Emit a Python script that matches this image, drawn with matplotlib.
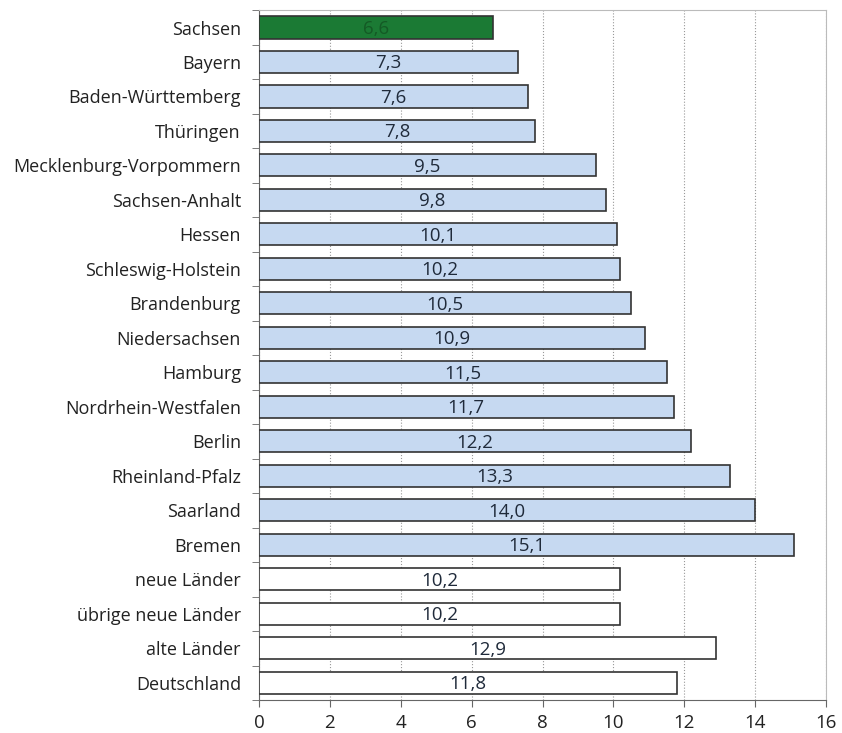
import matplotlib.pyplot as plt
import numpy as np

plt.rcParams['font.family'] = ['Open Sans', 'DejaVu Sans']

laender = ['Sachsen', 'Bayern', 'Baden-Württemberg', 'Thüringen', 'Mecklenburg-Vorpommern',
           'Sachsen-Anhalt', 'Hessen', 'Schleswig-Holstein', 'Brandenburg', 'Niedersachsen',
           'Hamburg', 'Nordrhein-Westfalen', 'Berlin', 'Rheinland-Pfalz', 'Saarland', 'Bremen',
           'neue Länder', 'übrige neue Länder', 'alte Länder', 'Deutschland']
werte = [6.6, 7.3, 7.6, 7.8, 9.5, 9.8, 10.1, 10.2, 10.5, 10.9, 11.5, 11.7, 12.2, 13.3, 14.0, 15.1,
         10.2, 10.2, 12.9, 11.8]
farben = ['#1B7A34'] + ['#C6D9F1'] * 15 + ['white'] * 4

fig = plt.figure(figsize=(8.42, 7.33), dpi=100)
ax = fig.add_axes([0.3076, 0.045, 0.6734, 0.941])

y = np.arange(len(laender))
ax.barh(y, werte, height=0.64, color=farben, edgecolor='#333333', linewidth=1.2, zorder=3)

for i, v in enumerate(werte):
    col = '#145a25' if i == 0 else '#1f2a3a'
    ax.text(v / 2, i + 0.04, f'{v:.1f}'.replace('.', ','), ha='center', va='center',
            fontsize=13.5, color=col, zorder=4)

ax.set_ylim(len(laender) - 0.5, -0.5)
ax.set_xlim(0, 16)
ax.set_xticks(range(0, 17, 2))
ax.set_yticks(y)
ax.set_yticklabels(laender, fontsize=13, color='#222222')
ax.set_yticks(np.arange(-0.5, len(laender), 1), minor=True)
ax.tick_params(axis='y', which='major', length=0, pad=13)
ax.tick_params(axis='y', which='minor', length=5, color='#666666')
ax.tick_params(axis='x', length=5, color='#666666', labelsize=13.5, labelcolor='#222222', pad=5)

ax.grid(axis='x', linestyle=':', color='#999999', linewidth=0.8, zorder=0)
for s in ['top', 'right']:
    ax.spines[s].set_color('#bbbbbb')
for s in ['left', 'bottom']:
    ax.spines[s].set_color('#666666')

plt.savefig('out.png', dpi=100)
